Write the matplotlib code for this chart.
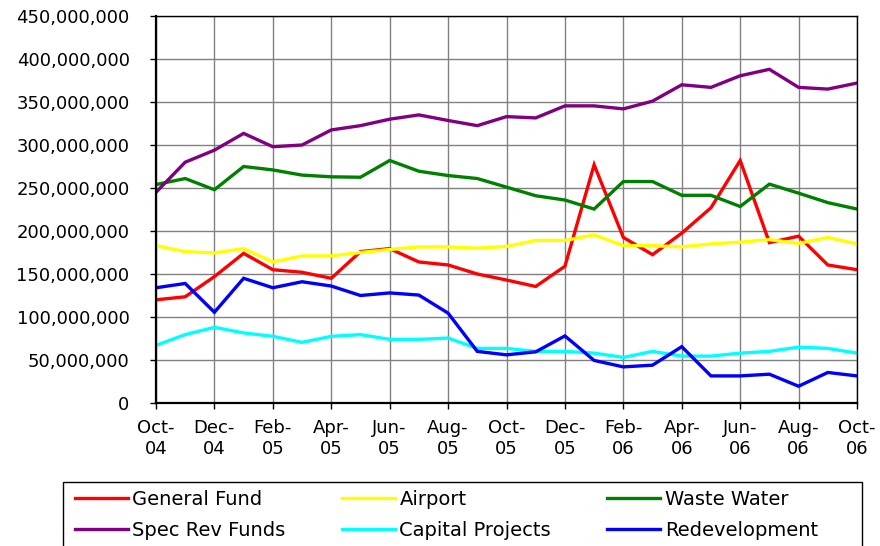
import matplotlib.pyplot as plt
from matplotlib.patches import Rectangle
from matplotlib.ticker import MultipleLocator, FuncFormatter

plt.rcParams['font.family'] = ['DejaVu Sans']

# monthly, Oct-04 .. Oct-06 (values in millions)
months = ['Oct-04', 'Nov-04', 'Dec-04', 'Jan-05', 'Feb-05', 'Mar-05', 'Apr-05',
          'May-05', 'Jun-05', 'Jul-05', 'Aug-05', 'Sep-05', 'Oct-05', 'Nov-05',
          'Dec-05', 'Jan-06', 'Feb-06', 'Mar-06', 'Apr-06', 'May-06', 'Jun-06',
          'Jul-06', 'Aug-06', 'Sep-06', 'Oct-06']

general_fund = [120, 123.5, 147, 174, 155, 152, 145, 176, 179.5, 164, 160.5, 150, 143,
                135.5, 159, 277, 192.5, 172.5, 197.5, 227, 282, 186.5, 194, 160.5, 155]
airport = [183, 176, 174.5, 179.5, 164, 171, 171, 175, 178.5, 181.5, 181.5, 180, 182,
           189, 189, 195.5, 183, 183, 181.5, 185, 187, 190, 185.5, 192.5, 185]
waste_water = [254, 261, 248, 275, 271, 265, 263, 262.5, 282, 269.5, 264.5, 261, 251,
               241, 236, 225.5, 257.5, 257.5, 241.5, 241.5, 228.5, 254.5, 244, 233, 225.5]
spec_rev = [245, 280, 294, 313.5, 298, 300, 317.5, 322.5, 330, 335, 328.5, 322.5, 333,
            331.5, 345.5, 345.5, 342, 351, 370, 367, 380.5, 388, 367, 365, 372]
capital_projects = [67, 79.5, 88, 81.5, 77.5, 70.5, 77.5, 79.5, 74, 74, 75.5, 63.5, 63.5,
                    60, 60, 58, 53, 60, 54.5, 54.5, 58, 60, 65, 63.5, 58]
redevelopment = [134, 139, 105.5, 145, 134, 141, 136, 125, 128, 125.5, 104.5, 60, 56,
                 59.5, 78, 49.5, 42, 44, 65.5, 31.5, 31.5, 33.5, 19.5, 35.5, 31.5]

series = [('General Fund', general_fund, '#FF0000'),
          ('Airport', airport, '#FFFF00'),
          ('Waste Water', waste_water, '#008000'),
          ('Spec Rev Funds', spec_rev, '#800080'),
          ('Capital Projects', capital_projects, '#00FFFF'),
          ('Redevelopment', redevelopment, '#0000FF')]

W, H = 880, 546
fig = plt.figure(figsize=(W/100, H/100), dpi=100)
ax = fig.add_axes([156/W, 1-403/H, (857-156)/W, (403-16)/H])

x = list(range(len(months)))
lines = []
for name, vals, col in series:
    ln, = ax.plot(x, vals, color=col, lw=2.4, label=name, solid_joinstyle='miter')
    lines.append(ln)

ax.set_xlim(0, len(months)-1)
ax.set_ylim(0, 450)
ax.yaxis.set_major_locator(MultipleLocator(50))
ax.yaxis.set_major_formatter(FuncFormatter(lambda v, p: f'{v*1e6:,.0f}'))
ax.set_xticks(x[::2])
ax.set_xticklabels([m.replace('-', '-\n') for m in months[::2]], linespacing=1.25)

ax.grid(True, color='#808080', lw=1)
ax.set_axisbelow(True)
for s in ['top', 'right']:
    ax.spines[s].set_linewidth(1)
for s in ['left', 'bottom']:
    ax.spines[s].set_linewidth(1.6)
ax.tick_params(axis='both', direction='out', length=4, width=1)
ax.tick_params(axis='y', labelsize=13, pad=15)
ax.tick_params(axis='x', labelsize=13, pad=7.5)

# legend box runs off the bottom of the image in the original
fig.patches.append(Rectangle((63/W, -0.05), (862-63)/W, 1-482/H+0.05,
                             transform=fig.transFigure, fill=False,
                             edgecolor='black', lw=1))

# legend is filled column by column, so reorder to read row-wise like the original
order = [0, 3, 1, 4, 2, 5]
leg = fig.legend([lines[i] for i in order], [series[i][0] for i in order],
                 loc='upper left', bbox_to_anchor=(75/W, 1-490/H),
                 ncol=3, fontsize=14, frameon=False, columnspacing=2.9,
                 handlelength=2.7, handletextpad=0.25, labelspacing=0.6,
                 borderaxespad=0, borderpad=0)
for line in leg.get_lines():
    line.set_linewidth(2.4)

fig.savefig('out.png', dpi=100)
